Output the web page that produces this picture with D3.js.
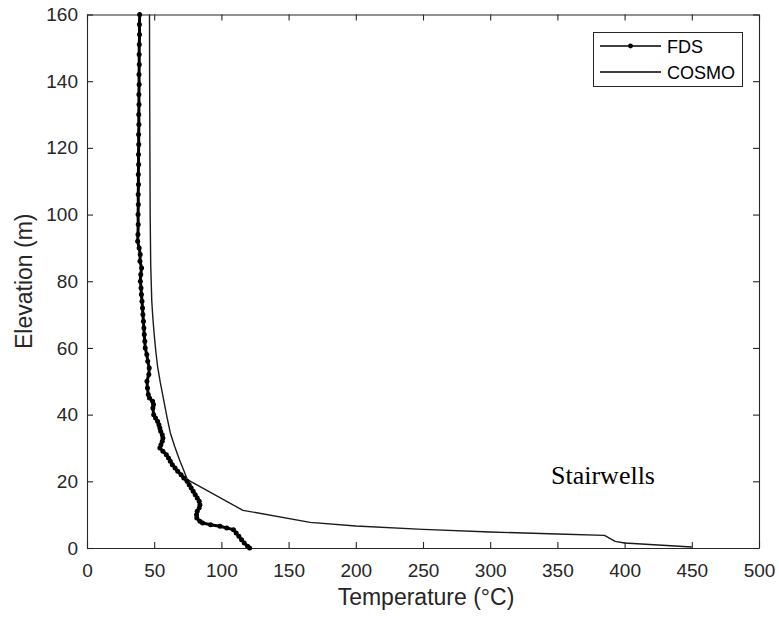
<!DOCTYPE html>
<html><head><meta charset="utf-8">
<script src="https://cdn.jsdelivr.net/npm/d3@7"></script>
<style>body{margin:0;background:#fff}svg{display:block}</style>
</head><body>
<script>
const xTicks = [0,50,100,150,200,250,300,350,400,450,500];
const yTicks = [0,20,40,60,80,100,120,140,160];
const seriesNames = ["FDS","COSMO"];
// FDS: temperature (°C) and elevation (m)
const fdsT = [39.2,39.0,39.1,38.9,38.8,38.9,38.7,38.8,38.6,38.7,38.5,38.6,38.4,38.5,38.3,38.4,38.2,38.3,38.1,38.2,38.0,38.1,37.9,37.7,38.8,39.6,39.4,40.6,40.0,39.7,40.2,40.5,40.9,41.3,41.6,42.0,42.3,42.6,43.0,43.3,44.5,45.2,46.3,46.0,44.6,45.0,45.6,46.5,48.8,49.5,49.0,49.6,51.0,52.5,53.5,54.2,54.8,56.0,56.5,56.0,55.0,54.2,56.5,59.0,60.6,62.0,63.5,65.5,67.5,70.0,72.0,74.5,76.0,77.5,79.0,80.5,82.0,83.5,84.0,83.5,82.0,81.5,81.7,84.0,86,92,99,104,109,111,113,115,117,119.5,121];
const fdsZ = [160,157,154,151,148,145,142,139,136,133,130,127,124,121,118,115,112,109,106,103,100,97,94,92,90,88,86,84,82,80,78,76,74,72,70,68,66,64,62,60,58,56,54,52,50,48,46,45,44,43,42,40,39,38,37,36,35,34,33,32,31,30,29,28,27,26,25,24,23,22,21,20,19,18,17,16,15,14,13,12,11,10,9,8,7.5,7,6.5,6,5.5,4.5,3.5,2.5,1.5,0.5,0];
// COSMO
const cosmoT = [46.5,46.6,46.8,47.0,47.4,48.2,49.0,50.0,51.2,52.5,54.6,57.0,59.4,62.0,65.2,68.8,71.8,74.7,116,166,200,250,300,350,385,393,400,450];
const cosmoZ = [160,140,120,100,85,74,69,64,59,54.5,49.5,44.5,39.5,34.5,30.5,26.5,23.5,20.5,11.3,7.7,6.6,5.6,4.8,4.2,3.8,2.0,1.5,0.3];

const W=779,H=617;
const m={l:87,t:14.5,r:759,b:548};
const svg=d3.select("body").append("svg").attr("width",W).attr("height",H);
const x=d3.scaleLinear().domain([0,500]).range([m.l,m.r]);
const y=d3.scaleLinear().domain([0,160]).range([m.b,m.t]);
const axisCol="#262626";
const font="Liberation Sans, Arial, sans-serif";

const gx=svg.append("g").attr("transform",`translate(0,${m.b})`)
  .call(d3.axisBottom(x).tickValues(xTicks).tickSizeInner(-6).tickSizeOuter(0).tickPadding(16));
const gy=svg.append("g").attr("transform",`translate(${m.l},0)`)
  .call(d3.axisLeft(y).tickValues(yTicks).tickSizeInner(-6).tickSizeOuter(0).tickPadding(9));
const gxt=svg.append("g").attr("transform",`translate(0,${m.t})`)
  .call(d3.axisTop(x).tickValues(xTicks).tickSizeInner(-6).tickSizeOuter(0).tickFormat(""));
const gyr=svg.append("g").attr("transform",`translate(${m.r},0)`)
  .call(d3.axisRight(y).tickValues(yTicks).tickSizeInner(-6).tickSizeOuter(0).tickFormat(""));
[gx,gy,gxt,gyr].forEach(g=>{
  g.selectAll("path,line").attr("stroke",axisCol).attr("stroke-width",1.1);
  g.selectAll("text").attr("fill",axisCol).style("font-family",font).style("font-size","19px");
});

const cosmo=cosmoT.map((t,i)=>[t,cosmoZ[i]]);
const fds=fdsT.map((t,i)=>[t,fdsZ[i]]);
const line=d3.line().x(d=>x(d[0])).y(d=>y(d[1]));
svg.append("path").datum(cosmo).attr("d",line).attr("fill","none").attr("stroke","#1a1a1a").attr("stroke-width",1.4).attr("stroke-linejoin","round");
svg.append("path").datum(fds).attr("d",line).attr("fill","none").attr("stroke","#000").attr("stroke-width",3).attr("stroke-linejoin","round");
svg.append("g").selectAll("circle").data(fds).join("circle")
  .attr("cx",d=>x(d[0])).attr("cy",d=>y(d[1])).attr("r",2.5).attr("fill","#000");

svg.append("text").attr("x",426).attr("y",605).attr("text-anchor","middle")
  .style("font-family",font).style("font-size","23px").attr("fill",axisCol).text("Temperature (°C)");
svg.append("text").attr("transform",`translate(32,${(m.t+m.b)/2}) rotate(-90)`).attr("text-anchor","middle")
  .style("font-family",font).style("font-size","23px").attr("fill",axisCol).text("Elevation (m)");
svg.append("text").attr("x",551).attr("y",484)
  .style("font-family","Liberation Serif, Times New Roman, serif").style("font-size","26px").attr("fill","#000").text("Stairwells");

const lg=svg.append("g");
lg.append("rect").attr("x",593.5).attr("y",32.5).attr("width",149).attr("height",54).attr("fill","#fff").attr("stroke",axisCol).attr("stroke-width",1);
const ly=[46,72];
seriesNames.forEach((n,i)=>{
  lg.append("line").attr("x1",600).attr("x2",661).attr("y1",ly[i]).attr("y2",ly[i]).attr("stroke","#000").attr("stroke-width",1.4);
  if(i===0) lg.append("circle").attr("cx",630.5).attr("cy",ly[i]).attr("r",2.4).attr("fill","#000");
  lg.append("text").attr("x",667).attr("y",ly[i]+6.5).style("font-family",font).style("font-size","18px").attr("fill","#000").text(n);
});
</script>
</body></html>
